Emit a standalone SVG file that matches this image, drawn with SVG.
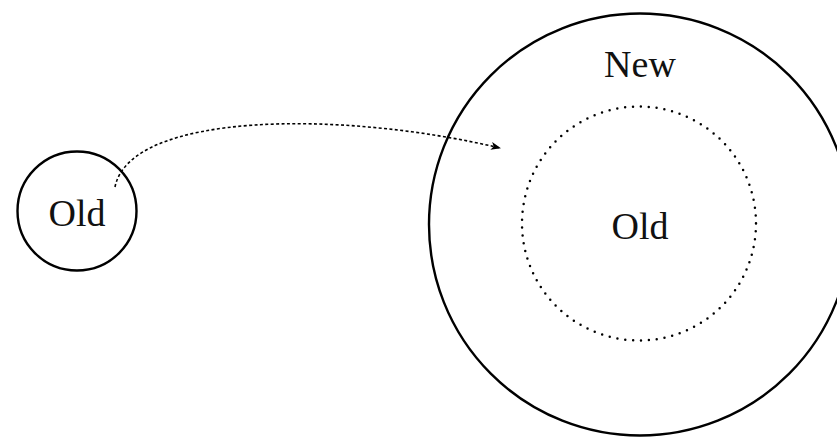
<svg xmlns="http://www.w3.org/2000/svg" width="837" height="437" viewBox="0 0 837 437">
<style>
.solid{fill:none;stroke:#000;stroke-width:2.4}
.dots{fill:none;stroke:#000;stroke-width:2.5;stroke-linecap:round;stroke-dasharray:0 7.9}
.lbl{font-family:"Liberation Serif","DejaVu Serif",serif;font-size:38px;fill:#111;text-anchor:middle}
.conn{fill:none;stroke:#000;stroke-width:1.6;stroke-dasharray:3 2.4}
</style>
<defs>
<marker id="ah" markerWidth="10" markerHeight="8" refX="9" refY="4" orient="auto" markerUnits="userSpaceOnUse">
<path d="M0,0 L10,4 L0,8 L2.5,4 Z" fill="#000"/>
</marker>
</defs>
<g id="old-small">
<circle class="solid" cx="77" cy="211" r="59.5"/>
<text class="lbl" x="77" y="226">Old</text>
</g>
<g id="new">
<circle class="solid" cx="640" cy="224.5" r="211"/>
<text class="lbl" x="640" y="77">New</text>
</g>
<g id="old-inner">
<circle class="dots" cx="639" cy="223.5" r="117"/>
<text class="lbl" x="640" y="239">Old</text>
</g>
<g id="connectors">
<path class="conn" d="M115,187 C130,112 340,110 500,148" marker-end="url(#ah)"/>
</g>
</svg>
